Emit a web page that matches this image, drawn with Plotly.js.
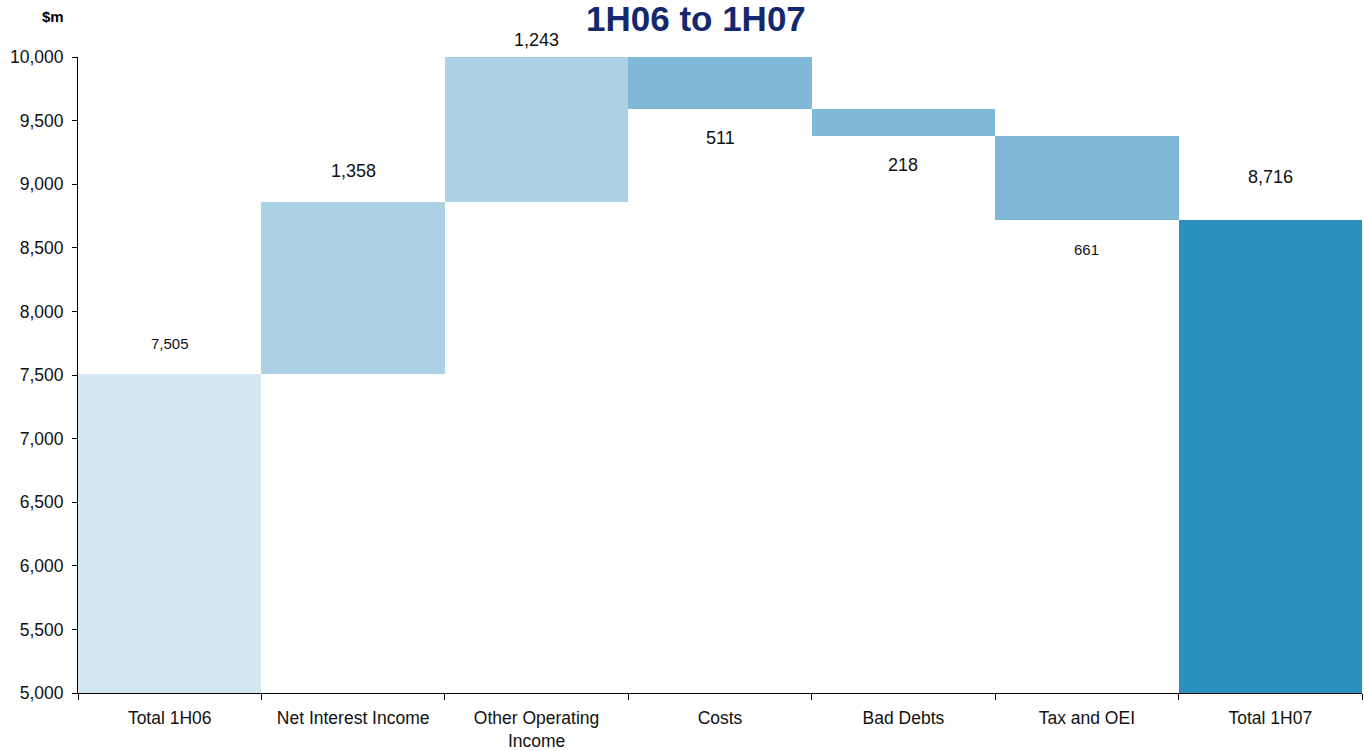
<!DOCTYPE html>
<html>
<head>
<meta charset="utf-8">
<script src="https://cdn.plot.ly/plotly-3.0.1.min.js"></script>
<style>html,body{margin:0;padding:0;background:#fff;}#chart{width:1364px;height:751px;}</style>
</head>
<body>
<div id="chart"></div>
<script>
// ---- data ----
const categories = ["Total 1H06", "Net Interest Income", "Other Operating<br>Income", "Costs", "Bad Debts", "Tax and OEI", "Total 1H07"];
const startTotal = 7505;
const changes = [1358, 1243, -511, -218, -661];   // signed movements
const endTotal = 8716;
const labelTexts = ["7,505", "1,358", "1,243", "511", "218", "661", "8,716"];
const yTickVals = [5000, 5500, 6000, 6500, 7000, 7500, 8000, 8500, 9000, 9500, 10000];

// ---- build waterfall geometry from data ----
const bases = [0];
const heights = [startTotal];
const tops = [startTotal];
const bottoms = [0];
let run = startTotal;
changes.forEach(c => {
  const lo = c >= 0 ? run : run + c;
  const hi = c >= 0 ? run + c : run;
  bases.push(lo); heights.push(hi - lo); tops.push(hi); bottoms.push(lo);
  run += c;
});
bases.push(0); heights.push(endTotal); tops.push(endTotal); bottoms.push(0);

const colStart = "#d4e7f1", colUp = "#aad2e4", colDown = "#7fb9d7", colEnd = "#2b8fc0";
const colors = [colStart].concat(changes.map(c => c >= 0 ? colUp : colDown)).concat([colEnd]);

const yMax = 10000, yMin = 5000;
const annotations = [];
categories.forEach((cat, i) => {
  const isDown = i > 0 && i < categories.length - 1 && changes[i - 1] < 0;
  const small = (i === 0 || i === 5);
  const clipped = tops[i] > yMax;
  annotations.push({
    x: cat, y: isDown ? bottoms[i] : Math.min(tops[i], yMax),
    xref: 'x', yref: 'y',
    text: labelTexts[i], showarrow: false,
    yshift: isDown ? -29 : (clipped ? 17 : (i === categories.length - 1 ? 43 : 31)),
    font: {family: 'Arial, Liberation Sans, sans-serif', size: small ? 15 : 18, color: '#111'}
  });
});
annotations.push({
  xref: 'paper', yref: 'paper', x: 0.481, y: 1.061, yanchor: 'middle',
  text: '<b>1H06 to 1H07</b>', showarrow: false,
  font: {family: 'Arial, Liberation Sans, sans-serif', size: 35, color: '#14286e'}
});
annotations.push({
  xref: 'paper', yref: 'paper', x: -0.0296, y: 1.063, yanchor: 'middle',
  text: '<b>$m</b>', showarrow: false,
  font: {family: 'Arial, Liberation Sans, sans-serif', size: 15, color: '#000'}
});

const trace = {
  type: 'bar', x: categories, y: heights, base: bases,
  marker: {color: colors, line: {width: 0}},
  hoverinfo: 'skip'
};

const layout = {
  width: 1364, height: 751,
  margin: {l: 78, r: 2, t: 57, b: 58},
  paper_bgcolor: '#fff', plot_bgcolor: '#fff',
  bargap: 0, showlegend: false,
  font: {family: 'Arial, Liberation Sans, sans-serif', size: 17, color: '#111'},
  xaxis: {
    type: 'category', showline: true, linecolor: '#000', linewidth: 1,
    ticks: 'outside', tickson: 'boundaries', ticklen: 6, tickcolor: '#000',
    ticklabelstandoff: 9,
    showgrid: false, tickfont: {size: 17.5, color: '#111'}
  },
  yaxis: {
    range: [yMin, yMax], tickvals: yTickVals, tickformat: ',d',
    showline: true, linecolor: '#000', linewidth: 1,
    ticks: 'outside', ticklen: 5, tickcolor: '#000',
    ticklabelstandoff: 5,
    showgrid: false, zeroline: false, tickfont: {size: 17.5, color: '#111'}
  },
  annotations: annotations
};

Plotly.newPlot('chart', [trace], layout, {staticPlot: true, displayModeBar: false});
</script>
</body>
</html>
